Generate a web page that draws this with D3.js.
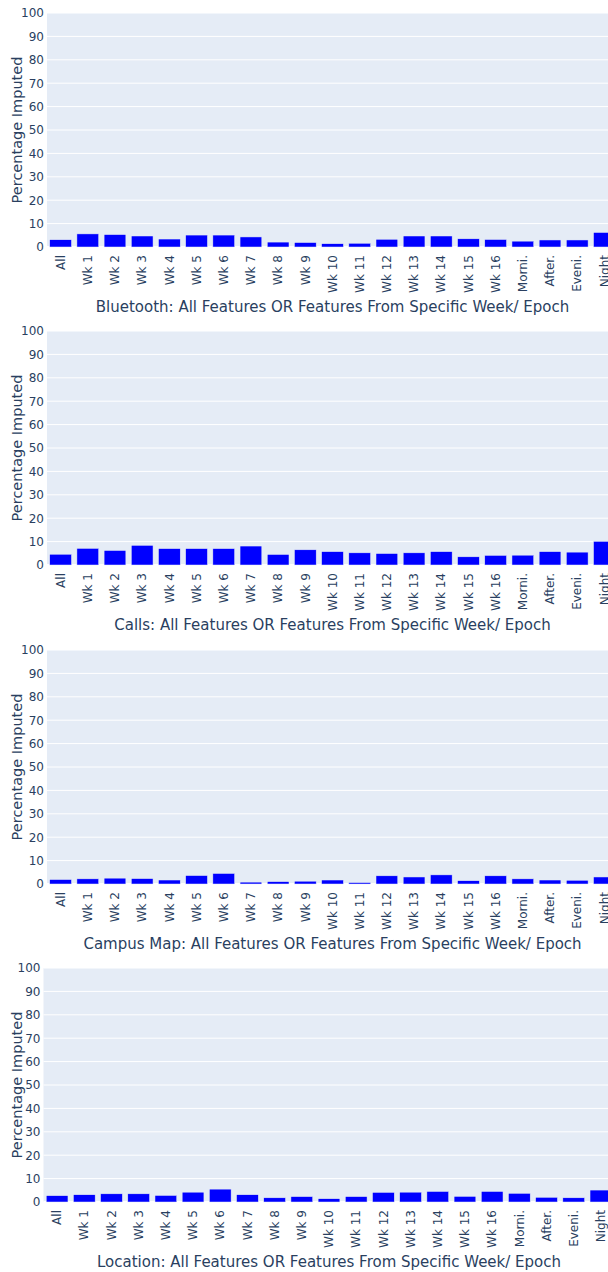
<!DOCTYPE html>
<html>
<head>
<meta charset="utf-8">
<script src="https://cdn.jsdelivr.net/npm/d3@7"></script>
<style>
  body { margin: 0; background: #fff; }
  text { font-family: "DejaVu Sans", verdana, arial, sans-serif; fill: #2a3f5f; }
</style>
</head>
<body>
<svg id="chart"></svg>
<script>
// Categories shared by every panel
const categories = ["All", "Wk 1", "Wk 2", "Wk 3", "Wk 4", "Wk 5", "Wk 6", "Wk 7", "Wk 8", "Wk 9",
  "Wk 10", "Wk 11", "Wk 12", "Wk 13", "Wk 14", "Wk 15", "Wk 16", "Morni.", "After.", "Eveni.", "Night"];

const bluetoothVals = [3.1, 5.6, 5.3, 4.7, 3.4, 5.1, 5.1, 4.3, 2.1, 1.9, 1.4, 1.6, 3.3, 4.7, 4.7, 3.5, 3.2, 2.5, 3.0, 3.0, 6.2];
const callsVals = [4.6, 7.1, 6.2, 8.4, 7.0, 7.0, 7.0, 8.1, 4.5, 6.5, 5.7, 5.2, 4.9, 5.2, 5.7, 3.5, 4.1, 4.2, 5.7, 5.5, 10.1];
const campusMapVals = [1.9, 2.2, 2.5, 2.3, 1.7, 3.6, 4.5, 0.8, 1.0, 1.2, 1.7, 0.6, 3.5, 3.0, 3.9, 1.4, 3.5, 2.2, 1.7, 1.6, 3.0];
const locationVals = [2.7, 3.1, 3.5, 3.5, 2.8, 4.2, 5.5, 3.1, 1.8, 2.3, 1.4, 2.3, 4.1, 4.2, 4.5, 2.4, 4.5, 3.7, 2.0, 1.8, 5.1];

const yTicks = [0, 10, 20, 30, 40, 50, 60, 70, 80, 90, 100];
const yLabel = "Percentage Imputed";

const panels = [
  { title: "Bluetooth: All Features OR Features From Specific Week/ Epoch", values: bluetoothVals, top: 13, left: 47 },
  { title: "Calls: All Features OR Features From Specific Week/ Epoch", values: callsVals, top: 331, left: 47 },
  { title: "Campus Map: All Features OR Features From Specific Week/ Epoch", values: campusMapVals, top: 650, left: 47 },
  { title: "Location: All Features OR Features From Specific Week/ Epoch", values: locationVals, top: 968, left: 43.5 }
];

const width = 608, height = 1272;
const plotW = 571, plotH = 234;

const svg = d3.select("#chart")
  .attr("width", width)
  .attr("height", height);

panels.forEach(p => {
  const g = svg.append("g")
    .attr("transform", "translate(" + p.left + "," + p.top + ")");

  const x = d3.scaleBand()
    .domain(categories)
    .range([0, plotW])
    .paddingInner(0.2)
    .paddingOuter(0.1);

  const y = d3.scaleLinear()
    .domain([0, 100])
    .range([plotH, 0]);

  // background
  g.append("rect")
    .attr("width", plotW)
    .attr("height", plotH)
    .attr("fill", "#E5ECF6");

  // grid
  g.selectAll(".grid")
    .data(yTicks.filter(d => d > 0))
    .enter()
    .append("line")
    .attr("x1", 0)
    .attr("x2", plotW)
    .attr("y1", d => y(d))
    .attr("y2", d => y(d))
    .attr("stroke", "#fff")
    .attr("stroke-width", 1);

  // zero line (under the bars, like plotly)
  g.append("line")
    .attr("x1", 0)
    .attr("x2", plotW)
    .attr("y1", y(0))
    .attr("y2", y(0))
    .attr("stroke", "#fff")
    .attr("stroke-width", 2);

  // bars
  g.selectAll(".bar")
    .data(p.values)
    .enter()
    .append("rect")
    .attr("x", (d, i) => x(categories[i]))
    .attr("y", d => y(d))
    .attr("width", x.bandwidth())
    .attr("height", d => y(0) - y(d))
    .attr("fill", "#0000ff")
    .attr("stroke", "#E5ECF6")
    .attr("stroke-width", 0.5);

  // y axis
  const yAxis = d3.axisLeft(y)
    .tickValues(yTicks)
    .tickSize(0)
    .tickPadding(3);
  const ya = g.append("g").call(yAxis);
  ya.select(".domain").remove();
  ya.selectAll("text")
    .attr("font-size", 12)
    .style("font-family", "DejaVu Sans, verdana, sans-serif")
    .style("fill", "#2a3f5f");

  // x axis
  const xAxis = d3.axisBottom(x).tickSize(0);
  const xa = g.append("g")
    .attr("transform", "translate(0," + plotH + ")")
    .call(xAxis);
  xa.select(".domain").remove();
  xa.selectAll("text")
    .attr("font-size", 12)
    .style("font-family", "DejaVu Sans, verdana, sans-serif")
    .style("fill", "#2a3f5f")
    .attr("text-anchor", "end")
    .attr("transform", "rotate(-90)")
    .attr("x", -8)
    .attr("y", 0)
    .attr("dy", "0.35em");

  // axis titles
  g.append("text")
    .attr("x", plotW / 2)
    .attr("y", plotH + 65)
    .attr("text-anchor", "middle")
    .attr("font-size", 15)
    .text(p.title);

  g.append("text")
    .attr("transform", "translate(" + (-p.left + 22) + "," + (plotH / 2) + ") rotate(-90)")
    .attr("text-anchor", "middle")
    .attr("font-size", 14.5)
    .text(yLabel);
});
</script>
</body>
</html>
